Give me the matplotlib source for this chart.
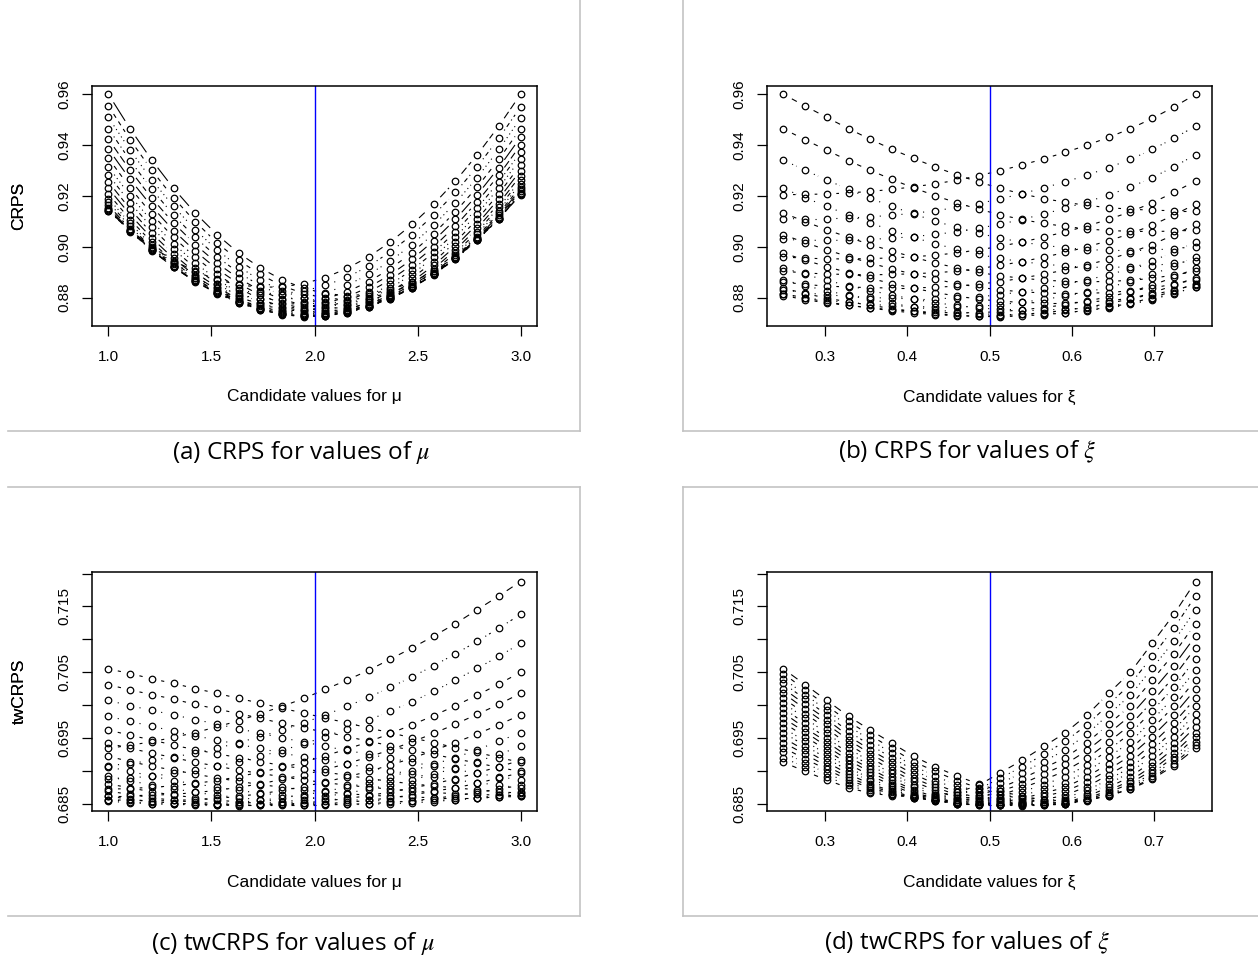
import numpy as np
import matplotlib
matplotlib.use("Agg")
import matplotlib.pyplot as plt
from matplotlib.collections import LineCollection
from matplotlib.lines import Line2D

# candidate values (20 each)
mu_cand = [1.0, 1.1053, 1.2105, 1.3158, 1.4211, 1.5263, 1.6316, 1.7368, 1.8421, 1.9474,
           2.0526, 2.1579, 2.2632, 2.3684, 2.4737, 2.5789, 2.6842, 2.7895, 2.8947, 3.0]
xi_cand = [0.25, 0.2763, 0.3026, 0.3289, 0.3553, 0.3816, 0.4079, 0.4342, 0.4605, 0.4868,
           0.5132, 0.5395, 0.5658, 0.5921, 0.6184, 0.6447, 0.6711, 0.6974, 0.7237, 0.75]

# CRPS, one row per candidate mu, one column per candidate xi
crps = [
    [0.9600, 0.9554, 0.9509, 0.9465, 0.9423, 0.9384, 0.9348, 0.9314, 0.9283, 0.9255, 0.9230, 0.9208, 0.9190, 0.9175, 0.9163, 0.9154, 0.9148, 0.9144, 0.9142, 0.9142],
    [0.9464, 0.9421, 0.9380, 0.9339, 0.9301, 0.9265, 0.9232, 0.9201, 0.9173, 0.9148, 0.9126, 0.9107, 0.9092, 0.9080, 0.9070, 0.9064, 0.9061, 0.9060, 0.9062, 0.9065],
    [0.9341, 0.9301, 0.9263, 0.9226, 0.9191, 0.9159, 0.9129, 0.9101, 0.9076, 0.9053, 0.9034, 0.9018, 0.9006, 0.8996, 0.8989, 0.8986, 0.8985, 0.8987, 0.8993, 0.9000],
    [0.9230, 0.9193, 0.9159, 0.9125, 0.9094, 0.9064, 0.9037, 0.9012, 0.8990, 0.8970, 0.8954, 0.8941, 0.8932, 0.8924, 0.8920, 0.8919, 0.8921, 0.8926, 0.8935, 0.8946],
    [0.9133, 0.9099, 0.9067, 0.9037, 0.9009, 0.8983, 0.8959, 0.8936, 0.8917, 0.8899, 0.8886, 0.8876, 0.8869, 0.8864, 0.8862, 0.8864, 0.8868, 0.8876, 0.8889, 0.8903],
    [0.9048, 0.9016, 0.8988, 0.8961, 0.8936, 0.8913, 0.8892, 0.8872, 0.8855, 0.8841, 0.8830, 0.8823, 0.8818, 0.8816, 0.8817, 0.8820, 0.8827, 0.8838, 0.8853, 0.8871],
    [0.8976, 0.8947, 0.8922, 0.8898, 0.8876, 0.8855, 0.8837, 0.8820, 0.8806, 0.8794, 0.8786, 0.8781, 0.8779, 0.8779, 0.8783, 0.8788, 0.8797, 0.8811, 0.8830, 0.8850],
    [0.8917, 0.8891, 0.8868, 0.8847, 0.8828, 0.8810, 0.8794, 0.8780, 0.8769, 0.8759, 0.8754, 0.8752, 0.8752, 0.8754, 0.8760, 0.8768, 0.8779, 0.8796, 0.8817, 0.8841],
    [0.8870, 0.8847, 0.8827, 0.8809, 0.8793, 0.8777, 0.8764, 0.8752, 0.8743, 0.8737, 0.8733, 0.8734, 0.8737, 0.8741, 0.8749, 0.8759, 0.8773, 0.8792, 0.8816, 0.8842],
    [0.8837, 0.8816, 0.8798, 0.8783, 0.8770, 0.8757, 0.8746, 0.8737, 0.8730, 0.8726, 0.8725, 0.8728, 0.8733, 0.8740, 0.8750, 0.8762, 0.8778, 0.8800, 0.8826, 0.8855],
    [0.8816, 0.8798, 0.8783, 0.8770, 0.8759, 0.8748, 0.8740, 0.8733, 0.8729, 0.8727, 0.8729, 0.8734, 0.8741, 0.8750, 0.8762, 0.8777, 0.8795, 0.8819, 0.8848, 0.8879],
    [0.8808, 0.8792, 0.8779, 0.8769, 0.8760, 0.8752, 0.8746, 0.8742, 0.8740, 0.8741, 0.8745, 0.8752, 0.8761, 0.8772, 0.8787, 0.8803, 0.8823, 0.8849, 0.8880, 0.8915],
    [0.8813, 0.8799, 0.8789, 0.8781, 0.8774, 0.8768, 0.8765, 0.8763, 0.8763, 0.8766, 0.8772, 0.8782, 0.8793, 0.8806, 0.8822, 0.8841, 0.8863, 0.8891, 0.8924, 0.8961],
    [0.8831, 0.8819, 0.8811, 0.8805, 0.8801, 0.8797, 0.8796, 0.8796, 0.8798, 0.8803, 0.8812, 0.8823, 0.8837, 0.8852, 0.8870, 0.8890, 0.8914, 0.8944, 0.8980, 0.9019],
    [0.8861, 0.8852, 0.8845, 0.8842, 0.8839, 0.8838, 0.8838, 0.8841, 0.8845, 0.8853, 0.8863, 0.8877, 0.8892, 0.8909, 0.8929, 0.8951, 0.8977, 0.9009, 0.9047, 0.9088],
    [0.8904, 0.8897, 0.8893, 0.8891, 0.8890, 0.8891, 0.8894, 0.8898, 0.8904, 0.8914, 0.8927, 0.8942, 0.8959, 0.8978, 0.9000, 0.9024, 0.9052, 0.9085, 0.9125, 0.9168],
    [0.8960, 0.8955, 0.8953, 0.8952, 0.8954, 0.8956, 0.8961, 0.8967, 0.8976, 0.8988, 0.9002, 0.9019, 0.9038, 0.9059, 0.9082, 0.9108, 0.9138, 0.9173, 0.9214, 0.9259],
    [0.9029, 0.9026, 0.9025, 0.9026, 0.9029, 0.9034, 0.9040, 0.9049, 0.9059, 0.9073, 0.9089, 0.9108, 0.9129, 0.9152, 0.9177, 0.9204, 0.9235, 0.9272, 0.9315, 0.9362],
    [0.9111, 0.9110, 0.9110, 0.9113, 0.9118, 0.9124, 0.9132, 0.9142, 0.9155, 0.9170, 0.9189, 0.9209, 0.9232, 0.9256, 0.9282, 0.9312, 0.9344, 0.9383, 0.9427, 0.9475],
    [0.9205, 0.9206, 0.9208, 0.9212, 0.9218, 0.9226, 0.9236, 0.9248, 0.9262, 0.9280, 0.9300, 0.9322, 0.9346, 0.9372, 0.9400, 0.9431, 0.9465, 0.9505, 0.9550, 0.9600],
]

# twCRPS, one row per candidate mu, one column per candidate xi
twcrps = [
    [0.7055, 0.7031, 0.7007, 0.6983, 0.6962, 0.6942, 0.6922, 0.6906, 0.6892, 0.6880, 0.6869, 0.6861, 0.6856, 0.6854, 0.6856, 0.6862, 0.6872, 0.6887, 0.6908, 0.6934],
    [0.7048, 0.7023, 0.6999, 0.6975, 0.6954, 0.6934, 0.6914, 0.6899, 0.6885, 0.6874, 0.6864, 0.6857, 0.6853, 0.6851, 0.6855, 0.6862, 0.6873, 0.6889, 0.6911, 0.6939],
    [0.7040, 0.7016, 0.6992, 0.6968, 0.6947, 0.6927, 0.6907, 0.6892, 0.6878, 0.6868, 0.6859, 0.6853, 0.6850, 0.6850, 0.6854, 0.6863, 0.6875, 0.6892, 0.6916, 0.6944],
    [0.7033, 0.7009, 0.6985, 0.6960, 0.6939, 0.6920, 0.6901, 0.6885, 0.6873, 0.6863, 0.6855, 0.6851, 0.6849, 0.6849, 0.6855, 0.6864, 0.6877, 0.6896, 0.6921, 0.6951],
    [0.7025, 0.7001, 0.6978, 0.6953, 0.6932, 0.6913, 0.6895, 0.6880, 0.6867, 0.6859, 0.6852, 0.6849, 0.6848, 0.6849, 0.6856, 0.6867, 0.6881, 0.6901, 0.6927, 0.6958],
    [0.7018, 0.6994, 0.6971, 0.6947, 0.6926, 0.6907, 0.6889, 0.6875, 0.6863, 0.6855, 0.6850, 0.6848, 0.6848, 0.6850, 0.6858, 0.6870, 0.6885, 0.6907, 0.6934, 0.6967],
    [0.7010, 0.6987, 0.6964, 0.6940, 0.6920, 0.6901, 0.6884, 0.6870, 0.6859, 0.6853, 0.6848, 0.6847, 0.6849, 0.6852, 0.6861, 0.6875, 0.6891, 0.6914, 0.6943, 0.6976],
    [0.7003, 0.6980, 0.6957, 0.6934, 0.6914, 0.6896, 0.6879, 0.6866, 0.6856, 0.6850, 0.6848, 0.6848, 0.6850, 0.6855, 0.6865, 0.6880, 0.6898, 0.6922, 0.6952, 0.6987],
    [0.6995, 0.6972, 0.6950, 0.6927, 0.6908, 0.6891, 0.6875, 0.6863, 0.6853, 0.6849, 0.6848, 0.6849, 0.6853, 0.6859, 0.6870, 0.6887, 0.6905, 0.6931, 0.6962, 0.6998],
    [0.6988, 0.6965, 0.6944, 0.6921, 0.6903, 0.6886, 0.6871, 0.6860, 0.6851, 0.6848, 0.6848, 0.6851, 0.6856, 0.6863, 0.6876, 0.6894, 0.6913, 0.6941, 0.6973, 0.7010],
    [0.6980, 0.6959, 0.6937, 0.6916, 0.6898, 0.6882, 0.6868, 0.6857, 0.6850, 0.6848, 0.6850, 0.6854, 0.6861, 0.6869, 0.6883, 0.6902, 0.6923, 0.6952, 0.6985, 0.7024],
    [0.6973, 0.6952, 0.6931, 0.6910, 0.6893, 0.6878, 0.6865, 0.6856, 0.6849, 0.6849, 0.6852, 0.6858, 0.6866, 0.6875, 0.6891, 0.6911, 0.6933, 0.6964, 0.6998, 0.7038],
    [0.6965, 0.6945, 0.6925, 0.6905, 0.6888, 0.6875, 0.6863, 0.6855, 0.6849, 0.6850, 0.6855, 0.6862, 0.6872, 0.6882, 0.6899, 0.6921, 0.6944, 0.6977, 0.7012, 0.7053],
    [0.6958, 0.6938, 0.6919, 0.6900, 0.6884, 0.6872, 0.6861, 0.6854, 0.6850, 0.6852, 0.6859, 0.6868, 0.6879, 0.6891, 0.6909, 0.6932, 0.6957, 0.6991, 0.7027, 0.7070],
    [0.6950, 0.6931, 0.6913, 0.6895, 0.6880, 0.6869, 0.6860, 0.6854, 0.6851, 0.6854, 0.6863, 0.6874, 0.6886, 0.6900, 0.6919, 0.6944, 0.6970, 0.7005, 0.7043, 0.7087],
    [0.6943, 0.6925, 0.6907, 0.6890, 0.6877, 0.6867, 0.6859, 0.6855, 0.6853, 0.6858, 0.6869, 0.6880, 0.6895, 0.6910, 0.6931, 0.6957, 0.6984, 0.7021, 0.7060, 0.7105],
    [0.6935, 0.6918, 0.6902, 0.6886, 0.6874, 0.6865, 0.6859, 0.6856, 0.6856, 0.6862, 0.6874, 0.6888, 0.6904, 0.6920, 0.6943, 0.6971, 0.6999, 0.7038, 0.7078, 0.7124],
    [0.6928, 0.6912, 0.6896, 0.6882, 0.6871, 0.6864, 0.6859, 0.6858, 0.6859, 0.6867, 0.6881, 0.6897, 0.6914, 0.6932, 0.6956, 0.6986, 0.7015, 0.7056, 0.7097, 0.7145],
    [0.6920, 0.6905, 0.6891, 0.6878, 0.6868, 0.6863, 0.6860, 0.6860, 0.6863, 0.6872, 0.6889, 0.6906, 0.6925, 0.6945, 0.6970, 0.7001, 0.7032, 0.7074, 0.7117, 0.7166],
    [0.6913, 0.6899, 0.6886, 0.6874, 0.6866, 0.6862, 0.6861, 0.6863, 0.6867, 0.6878, 0.6897, 0.6916, 0.6937, 0.6958, 0.6985, 0.7018, 0.7050, 0.7094, 0.7138, 0.7188],
]

mu_ticks = [1.0, 1.5, 2.0, 2.5, 3.0]
xi_ticks = [0.3, 0.4, 0.5, 0.6, 0.7]
crps_ticks = [0.88, 0.90, 0.92, 0.94, 0.96]
tw_ticks = [0.685, 0.69, 0.695, 0.70, 0.705, 0.71, 0.715, 0.72]
tw_labels = ['0.685', '', '0.695', '', '0.705', '', '0.715', '']

mu = np.array(mu_cand)
xi = np.array(xi_cand)
C = np.array(crps)
T = np.array(twcrps)

W, H = 1258, 963
fig = plt.figure(figsize=(W / 100, H / 100), dpi=100)
plt.rcParams['font.family'] = ['Liberation Sans', 'DejaVu Sans']
plt.rcParams['mathtext.fontset'] = 'stix'

# R-like matplot lty cycle, lines broken around the points (type = "b")
ltys = ['solid', (0, (4, 4)), (0, (1, 3)), (0, (1, 3, 4, 3)), (0, (7, 3))]
gap = 9.5


def panel(rect, x, Y, xlim, ylim, xt, yt, ytl, vline, ylab, xlab):
    l, t, r, b = rect
    ax = fig.add_axes([l / W, 1 - b / H, (r - l) / W, (b - t) / H])
    ax.set_xlim(xlim)
    ax.set_ylim(ylim)
    inv = ax.transData.inverted()
    for k in range(Y.shape[1]):
        pts = ax.transData.transform(np.column_stack([x, Y[:, k]]))
        segs = []
        for p, q in zip(pts[:-1], pts[1:]):
            d = q - p
            n = np.hypot(d[0], d[1])
            if n > 2 * gap:
                segs.append(inv.transform([p + d * gap / n, q - d * gap / n]))
        ax.add_collection(LineCollection(segs, colors='k', linewidths=0.8, linestyles=ltys[k % 5]))
        ax.plot(x, Y[:, k], 'o', mfc='none', mec='k', ms=4.7, mew=0.9)
    ax.axvline(vline, color='#0000ff', lw=1.0)
    ax.set_xticks(xt)
    ax.set_xticklabels(['%.1f' % v for v in xt])
    ax.set_yticks(yt)
    ax.set_yticklabels(ytl, rotation=90, va='center')
    ax.tick_params(direction='out', length=7.2, width=0.9, labelsize=11, colors='k')
    ax.tick_params(axis='x', pad=10)
    ax.tick_params(axis='y', pad=8)
    for s in ax.spines.values():
        s.set_linewidth(1.1)
    fig.text(19 / W, 1 - ((t + b) / 2) / H, ylab, rotation=90, ha='center', va='center', fontsize=12.5)
    fig.text(((l + r) / 2) / W, 1 - (b + 71) / H, xlab, ha='center', va='center', fontsize=12.5)
    return ax


crps_lab = ['%.2f' % v for v in crps_ticks]
panel((92, 86, 537, 326), mu, C, (0.92, 3.08), (0.86883, 0.96328), mu_ticks,
      crps_ticks, crps_lab, 2.0, 'CRPS', 'Candidate values for μ')
panel((767, 86, 1212, 326), xi, C.T, (0.23, 0.77), (0.86883, 0.96328), xi_ticks,
      crps_ticks, crps_lab, 0.5, 'CRPS', 'Candidate values for ξ')
panel((92, 572, 537, 811), mu, T, (0.92, 3.08), (0.68388, 0.72025), mu_ticks,
      tw_ticks, tw_labels, 2.0, 'twCRPS', 'Candidate values for μ')
panel((767, 572, 1212, 811), xi, T.T, (0.23, 0.77), (0.68388, 0.72025), xi_ticks,
      tw_ticks, tw_labels, 0.5, 'twCRPS', 'Candidate values for ξ')

# thin grey frames of the four sub-figures
grey = '#c3c3c3'
borders = [((8, 580), (431, 431)), ((580, 580), (0, 431)),
           ((683, 683), (0, 431)), ((683, 1258), (431, 431)),
           ((8, 580), (487, 487)), ((580, 580), (487, 916)), ((8, 580), (916, 916)),
           ((683, 683), (487, 916)), ((683, 1258), (487, 487)), ((683, 1258), (916, 916))]
for xs, ys in borders:
    fig.add_artist(Line2D([xs[0] / W, xs[1] / W], [1 - ys[0] / H, 1 - ys[1] / H],
                          transform=fig.transFigure, color=grey, lw=1.2))

caps = [(301, 452, r'(a) CRPS for values of $\mu$'), (967, 452, r'(b) CRPS for values of $\xi$'),
        (293, 943, r'(c) twCRPS for values of $\mu$'), (967, 943, r'(d) twCRPS for values of $\xi$')]
for x, y, s in caps:
    fig.text(x / W, 1 - y / H, s, ha='center', va='center', fontsize=17.5, family='Open Sans')

fig.savefig('out.png', dpi=100)
